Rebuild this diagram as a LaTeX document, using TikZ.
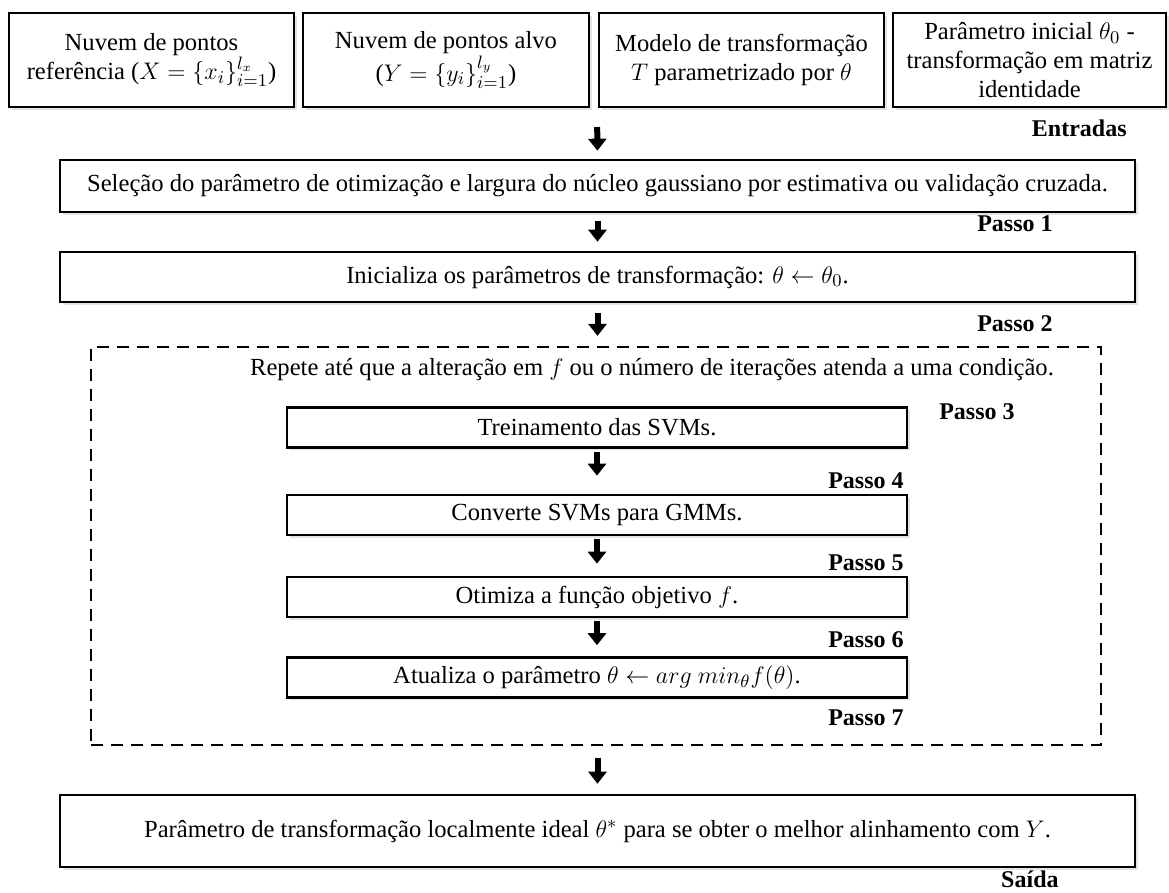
\documentclass[tikz,border=0pt]{standalone}
\usepackage{fontspec}
\setmainfont{Liberation Serif}
\usetikzlibrary{arrows.meta,shadows}
\begin{document}
\begin{tikzpicture}[x=0.5pt, y=-0.5pt, font=\fontsize{12.3}{14.5}\selectfont,
  caixa/.style={draw, line width=1.3pt, fill=white, align=center, inner sep=0pt,
    drop shadow={shadow xshift=1.4pt, shadow yshift=-1.4pt, opacity=0.22}},
  laco/.style={draw, dashed, dash pattern=on 6pt off 4pt, line width=1.1pt, inner sep=0pt},
  passo/.style={anchor=east, inner sep=0pt, font=\fontsize{12}{14}\selectfont\bfseries},
  seta/.style={line width=3pt, -{Triangle[length=6pt, width=9pt]}}]
  \useasboundingbox (0,0) rectangle (1169,893);
  \node[caixa, minimum width=142.5pt, minimum height=47pt] (ref) at (151.5,60)
    {Nuvem de pontos\\referência ($X=\{x_i\}_{i=1}^{l_x}$)};
  \node[caixa, minimum width=143pt, minimum height=47pt] (alvo) at (446,60)
    {Nuvem de pontos alvo\\($Y=\{y_i\}_{i=1}^{l_y}$)};
  \node[caixa, minimum width=142.5pt, minimum height=47pt] (modelo) at (741.5,60)
    {Modelo de transformação\\$T$ parametrizado por $\theta$};
  \node[caixa, minimum width=136.5pt, minimum height=47pt] (inicial) at (1029.5,60)
    {Parâmetro inicial $\theta_0$ -\\transformação em matriz\\identidade};
  \node[passo] (entradas) at (1127,128) {Entradas};
  \coordinate (topo) at (597,107);

  \node[caixa, minimum width=537.5pt, minimum height=26pt] (selecao) at (597.5,186)
    {Seleção do parâmetro de otimização e largura do núcleo gaussiano por estimativa ou validação cruzada.};
  \node[passo] (p1) at (1053,224) {Passo 1};
  \node[caixa, minimum width=537.5pt, minimum height=25pt] (inicia) at (597.5,277)
    {Inicializa os parâmetros de transformação: $\theta \leftarrow \theta_0$.};
  \node[passo] (p2) at (1053,324) {Passo 2};

  \node[laco, minimum width=505pt, minimum height=199pt] (laco) at (596,546) {};
  \node (repete) at (652,370)
    {Repete até que a alteração em $f$ ou o número de iterações atenda a uma condição.};
  \node[passo] (p3) at (1015,412) {Passo 3};
  \node[caixa, minimum width=310pt, minimum height=20pt] (svm) at (597,427.5) {Treinamento das SVMs.};
  \node[passo] (p4) at (904,481) {Passo 4};
  \node[caixa, minimum width=310pt, minimum height=20pt] (gmm) at (597,515) {Converte SVMs para GMMs.};
  \node[passo] (p5) at (904,563) {Passo 5};
  \node[caixa, minimum width=310pt, minimum height=20pt] (otimiza) at (597,597) {Otimiza a função objetivo $f$.};
  \node[passo] (p6) at (904,640) {Passo 6};
  \node[caixa, minimum width=310pt, minimum height=20pt] (atualiza) at (597,677.5)
    {Atualiza o parâmetro $\theta \leftarrow arg\ min_{\theta} f(\theta)$.};
  \node[passo] (p7) at (904,718) {Passo 7};

  \node[caixa, minimum width=537.5pt, minimum height=36pt] (saida) at (597.5,831)
    {Parâmetro de transformação localmente ideal $\theta^{*}$ para se obter o melhor alinhamento com $Y$.};
  \node[passo] (psaida) at (1059,879) {Saída};

  \draw[seta, shorten <=10pt, shorten >=4pt] (topo) -- (selecao.north);
  \draw[seta, shorten <=4pt, shorten >=4.5pt] (selecao) -- (inicia);
  \draw[seta, shorten <=5pt, shorten >=5pt] (inicia.south) -- (inicia.south |- laco.north);
  \draw[seta, shorten <=1.5pt, shorten >=9pt] (svm) -- (gmm);
  \draw[seta, shorten <=1.5pt, shorten >=6pt] (gmm) -- (otimiza);
  \draw[seta, shorten <=1.5pt, shorten >=5.5pt] (otimiza) -- (atualiza);
  \draw[seta, shorten <=6pt, shorten >=5pt] (saida.north |- laco.south) -- (saida.north);
\end{tikzpicture}
\end{document}
